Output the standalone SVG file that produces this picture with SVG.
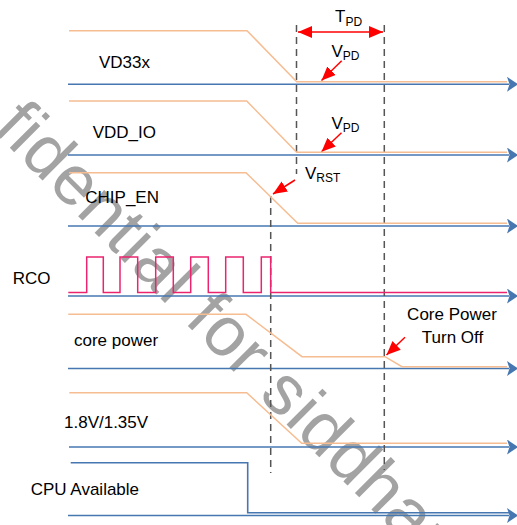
<svg xmlns="http://www.w3.org/2000/svg" width="517" height="525" viewBox="0 0 517 525">
<style>
.lbl{font-family:"Liberation Sans",Arial,sans-serif;font-size:17px;fill:#000}
.sub{font-size:12px}
.axis{stroke:#4677b1;stroke-width:1.6;fill:none}
.sig{stroke:#f6bd92;stroke-width:1.5;fill:none}
.rco{stroke:#ec2470;stroke-width:1.5;fill:none}
.dash{stroke:#555;stroke-width:1.5;stroke-dasharray:7,5;fill:none}
.red{stroke:#ff0000;stroke-width:1.5;fill:none}
.wm{font-family:"Liberation Sans",Arial,sans-serif;font-size:70px;letter-spacing:1px;fill:#a3a3a3}
</style>
<defs>
<marker id="blueHead" markerUnits="userSpaceOnUse" markerWidth="14" markerHeight="16" refX="2" refY="7.5" orient="auto">
<path d="M0,0 L11,7.5 L0,15 L2.5,7.5 z" fill="#4677b1"/>
</marker>
<marker id="redHead" markerUnits="userSpaceOnUse" markerWidth="16" markerHeight="14" refX="14" refY="6" orient="auto-start-reverse">
<path d="M0,0 L14,6 L0,12 z" fill="#ff0000"/>
</marker>
</defs>

<g id="watermark">
<text class="wm" transform="translate(-8,130) rotate(45)">fidential for siddhar</text>
</g>

<g id="connectors">
<g id="axes">
<line class="axis" x1="68" y1="84.3" x2="509" y2="84.3" marker-end="url(#blueHead)"/>
<line class="axis" x1="68" y1="155" x2="509" y2="155" marker-end="url(#blueHead)"/>
<line class="axis" x1="68" y1="226" x2="509" y2="226" marker-end="url(#blueHead)"/>
<line class="axis" x1="68" y1="296" x2="509" y2="296" marker-end="url(#blueHead)"/>
<line class="axis" x1="68" y1="368.5" x2="509" y2="368.5" marker-end="url(#blueHead)"/>
<line class="axis" x1="69" y1="447" x2="509" y2="447" marker-end="url(#blueHead)"/>
<line class="axis" x1="68" y1="515.5" x2="509" y2="515.5" marker-end="url(#blueHead)"/>
</g>
<g id="dashes">
<line class="dash" x1="296.5" y1="25" x2="296.5" y2="174"/>
<line class="dash" x1="270.7" y1="196" x2="270.7" y2="473"/>
<line class="dash" x1="384.3" y1="25" x2="384.3" y2="470"/>
</g>
<g id="arrows">
<line class="red" x1="298" y1="32" x2="383" y2="32" marker-start="url(#redHead)" marker-end="url(#redHead)"/>
<line class="red" x1="341.7" y1="60.7" x2="321.5" y2="80.5" marker-end="url(#redHead)"/>
<line class="red" x1="341.5" y1="132.7" x2="321.5" y2="151.7" marker-end="url(#redHead)"/>
<line class="red" x1="295" y1="180" x2="273" y2="194" marker-end="url(#redHead)"/>
<line class="red" x1="405" y1="337.3" x2="386.5" y2="355" marker-end="url(#redHead)"/>
</g>
</g>

<g id="VD33x">
<path class="sig" d="M69,30.7 H247 L296.7,81.7 H507"/>
<text class="lbl" x="99" y="68">VD33x</text>
</g>
<g id="VDD_IO">
<path class="sig" d="M69,101 H246.7 L296.7,152.3 H507"/>
<text class="lbl" x="92.7" y="137.7">VDD_IO</text>
</g>
<g id="CHIP_EN">
<path class="sig" d="M69,172.7 H246 L297.7,223.3 H507"/>
<text class="lbl" x="85.3" y="202.5">CHIP_EN</text>
</g>
<g id="RCO">
<path class="rco" d="M68.3,292.5 H86.7 V257 H103.3 V292.5 H120 V257 H137.7 V292.5 H155.7 V257 H173.3 V292.5 H190.7 V257 H208.3 V292.5 H225.7 V257 H243.3 V292.5 H261.3 V257 H270.7 V292.5 H507"/>
<text class="lbl" x="12.7" y="284">RCO</text>
</g>
<g id="core_power">
<path class="sig" d="M68.3,314.3 H246 L302,356.7 H385 L402,366.7 H507"/>
<text class="lbl" x="74" y="346">core power</text>
</g>
<g id="v18">
<path class="sig" d="M69.3,392.7 H246.7 L301.7,443.3 H507"/>
<text class="lbl" x="64" y="427.7">1.8V/1.35V</text>
</g>
<g id="CPU_Available">
<path class="axis" d="M70.7,462.7 H247.7 V512.7 H509"/>
<text class="lbl" x="30.7" y="495">CPU Available</text>
</g>

<g id="labels">
<text class="lbl" x="335" y="22">T<tspan class="sub" dy="3.5">PD</tspan></text>
<text class="lbl" x="331.5" y="56.7">V<tspan class="sub" dy="3">PD</tspan></text>
<text class="lbl" x="331.5" y="129">V<tspan class="sub" dy="3">PD</tspan></text>
<text class="lbl" x="305" y="178.5">V<tspan class="sub" dy="3">RST</tspan></text>
<text class="lbl" x="452" y="320" text-anchor="middle">Core Power</text>
<text class="lbl" x="452.5" y="343" text-anchor="middle">Turn Off</text>
</g>
</svg>
